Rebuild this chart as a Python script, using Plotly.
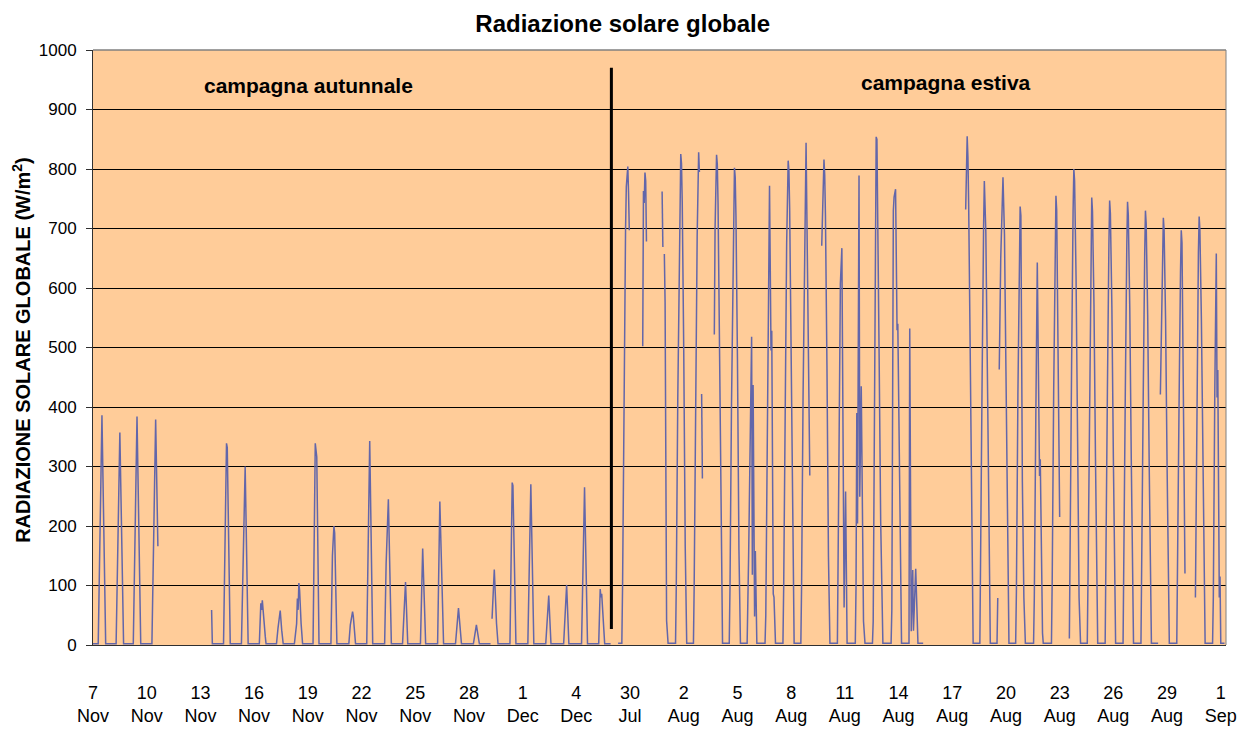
import plotly.graph_objects as go

# ---------------- data (hourly global solar radiation, W/m2) ----------------
# Each day is described by the hours (0-23) at which the line changes course
# and the value read at that hour; None = missing data (line break).

autumn_dates = ["7 Nov", "8 Nov", "9 Nov", "10 Nov", "11 Nov", "12 Nov", "13 Nov",
                "14 Nov", "15 Nov", "16 Nov", "17 Nov", "18 Nov", "19 Nov", "20 Nov",
                "21 Nov", "22 Nov", "23 Nov", "24 Nov", "25 Nov", "26 Nov", "27 Nov",
                "28 Nov", "29 Nov", "30 Nov", "1 Dec", "2 Dec", "3 Dec", "4 Dec", "5 Dec"]

autumn_hours = [
    [0, 7, 12, 17],
    [7, 12, 17],
    [6, 11, 16],
    [7, 12, 15, 16],
    [],
    [],
    [15, 16],
    [7, 11, 12, 16],
    [7, 12, 16],
    [7, 9, 10, 11, 13, 15, 16],
    [6, 8, 10, 11, 13, 15],
    [6, 8, 9, 10, 11, 12, 13, 15, 17],
    [7, 10, 12, 15],
    [7, 9, 11, 12, 15],
    [7, 9, 10, 12, 13, 16],
    [7, 11, 15],
    [7, 9, 10, 12, 16],
    [7, 11, 14],
    [7, 10, 14],
    [6, 9, 14],
    [6, 10, 14],
    [6, 10, 14],
    [5, 6, 7, 10, 13, 15],
    [7, 10, 11, 15],
    [7, 11, 15],
    [7, 11, 14],
    [7, 11, 14],
    [7, 11, 15],
    [6, 8, 9, 10, 14, 22],
]

autumn_values = [
    [2, 2, 386, 2],
    [2, 357, 2],
    [2, 384, 2],
    [2, 379, 166, None],
    [],
    [],
    [59, 2],
    [2, 339, 332, 2],
    [2, 300, 2],
    [2, 70, 59, 75, 36, 14, 2],
    [2, 28, 58, 58, 25, 2],
    [2, 34, 36, 78, 59, 104, 92, 36, 2],
    [2, 339, 316, 2],
    [2, 150, 200, 188, 2],
    [2, 34, 40, 56, 48, 2],
    [2, 343, 2],
    [2, 137, 188, 245, 2],
    [2, 106, 2],
    [2, 162, 2],
    [2, 241, 2],
    [2, 62, 2],
    [2, 34, 2],
    [2, None, 44, 127, 36, 2],
    [2, 273, 268, 2],
    [2, 270, 2],
    [2, 83, 2],
    [2, 101, 2],
    [2, 265, 2],
    [2, 94, 80, 86, 2, 2],
]

summer_dates = ["29 Jul", "30 Jul", "31 Jul"] + ["%d Aug" % d for d in range(1, 32)]

summer_hours = [
    [1, 6, 7, 9, 11, 12, 14, 15, 16, 17],            # 29 Jul
    [10, 11, 12, 13, 14, 15, 16],                    # 30 Jul
    [12, 13, 14, 15, 16, 18, 20],                    # 31 Jul
    [6, 7, 9, 11, 13, 14, 15, 17, 19, 21],           # 1 Aug
    [6, 7, 9, 11, 13, 14, 15, 17, 18, 19],           # 2 Aug
    [10, 11, 13, 14, 15, 17, 19, 21],                # 3 Aug
    [6, 7, 9, 11, 13, 14, 15, 17, 19, 21],           # 4 Aug
    [6, 8, 10, 12, 13, 14, 16, 17, 19],              # 5 Aug
    [6, 7, 9, 11, 12, 14, 15, 17, 18, 20],           # 6 Aug
    [6, 7, 9, 11, 13, 14, 15, 17, 19, 21],           # 7 Aug
    [6, 7, 9, 11, 13, 18, 19],                       # 8 Aug
    [10, 12, 13, 14, 15, 17, 19, 21],                # 9 Aug
    [7, 9, 11, 13, 16, 18, 19, 20],                  # 10 Aug
    [7, 8, 9, 10, 12, 13, 15, 18, 20],               # 11 Aug
    [6, 7, 9, 11, 12, 13, 15, 17, 19, 20],           # 12 Aug
    [7, 8, 10, 11, 13, 15, 16, 20, 21],              # 13 Aug
    [7, 8, 10, 12, 13, 16, 19],                      # 14 Aug
    [2, 3],                                          # 15 Aug
    [],                                              # 16 Aug
    [11, 12, 13, 14, 15, 17, 19, 21],                # 17 Aug
    [6, 7, 9, 11, 12, 13, 14, 16, 18, 20],           # 18 Aug
    [5, 6, 7, 8, 10, 13, 15, 17, 19, 21],            # 19 Aug
    [6, 7, 9, 11, 12, 13, 14, 15, 17, 19],           # 20 Aug
    [6, 7, 9, 11, 14, 15, 18, 19],                   # 21 Aug
    [6, 7, 9, 11, 12, 13, 17, 18],                   # 22 Aug
    [6, 7, 9, 11, 12, 13, 15, 17, 19, 21],           # 23 Aug
    [6, 7, 9, 11, 12, 13, 15, 17, 19, 20],           # 24 Aug
    [6, 7, 9, 11, 12, 13, 15, 17, 19, 20],           # 25 Aug
    [6, 7, 9, 11, 12, 13, 15, 17, 19, 20],           # 26 Aug
    [6, 7, 9, 11, 12, 13, 15, 17, 19, 20],           # 27 Aug
    [5, 6, 8, 9, 11, 12, 13, 15, 17, 19, 20],        # 28 Aug
    [6, 7, 9, 11, 12, 13, 17, 18],                   # 29 Aug
    [7, 9, 11, 12, 13, 15, 17, 19, 20],              # 30 Aug
    [6, 7, 9, 10, 11, 12, 13, 15, 16, 17, 22],       # 31 Aug
]

summer_values = [
    [3, 3, 100, 450, 700, 770, 804, 760, 697, None],
    [502, 763, 743, 794, 780, 678, None],
    [762, 669, None, 657, 576, 41, 3],
    [3, 99, 413, 685, 825, 809, 743, 495, 165, 3],
    [3, 100, 415, 687, 828, 795, None, 422, 280, None],
    [522, 700, 824, 808, 742, 495, 165, 3],
    [3, 96, 401, 666, 802, 786, 722, 481, 160, 3],
    [3, 150, 380, 518, 118, 437, 48, 158, 3],
    [3, 50, 350, 660, 772, 495, 528, 86, 80, 3],
    [3, 98, 407, 676, 814, 798, 733, 488, 163, 3],
    [3, 100, 420, 700, 844, 285, None],
    [671, 790, 816, 790, 720, 470, 150, 3],
    [3, 300, 607, 667, 63, 258, 60, 3],
    [3, 100, 390, 204, 789, 249, 435, 40, 3],
    [3, 40, 450, 854, 850, 750, 480, 210, 25, 3],
    [3, 60, 730, 753, 766, 529, 540, 3, 3],
    [3, 532, 23, 126, 24, 128, 3],
    [3, None],
    [],
    [732, 781, 855, 820, 740, 500, 170, 3],
    [3, 117, 445, 702, 780, 737, 694, 468, 187, 3],
    [3, 79, None, 463, 650, 786, 690, 460, 160, 3],
    [3, 90, 420, 680, 737, 722, 298, 275, 80, 3],
    [3, 80, 380, 643, 284, 312, 20, 3],
    [3, 110, 430, 690, 755, 731, 215, None],
    [11, 130, 470, 730, 800, 780, 615, 350, 80, 3],
    [3, 113, 429, 677, 752, 729, 572, 316, 68, 3],
    [3, 112, 426, 672, 747, 725, 568, 314, 67, 3],
    [3, 112, 425, 671, 745, 723, 566, 313, 67, 3],
    [3, 110, 416, 657, 730, 708, 555, 307, 66, 3],
    [3, None, 421, 520, 680, 718, 698, 547, 302, 65, 3],
    [3, 105, 397, 627, 697, 676, 120, None],
    [80, 420, 660, 720, 698, 547, 302, 65, 3],
    [3, 80, 430, 580, 658, 416, 462, 80, 115, 3, 3],
]

# hourly samples per campaign on the shared category axis
autumn_samples = 703
summer_samples = 24 * len(summer_dates)

# category-axis labels (one every 72 hourly samples)
tick_labels = ["7<br>Nov", "10<br>Nov", "13<br>Nov", "16<br>Nov", "19<br>Nov",
               "22<br>Nov", "25<br>Nov", "28<br>Nov", "1<br>Dec", "4<br>Dec",
               "30<br>Jul", "2<br>Aug", "5<br>Aug", "8<br>Aug", "11<br>Aug",
               "14<br>Aug", "17<br>Aug", "20<br>Aug", "23<br>Aug", "26<br>Aug",
               "29<br>Aug", "1<br>Sep"]
label_every = 72

# ---------------- build series ----------------
xs, ys = [], []
for k, (hrs, vals) in enumerate(zip(autumn_hours, autumn_values)):
    for h, v in zip(hrs, vals):
        xs.append(24 * k + h)
        ys.append(v)
last_autumn_x = xs[-1]
xs.append(autumn_samples - 1)
ys.append(None)
for d, (hrs, vals) in enumerate(zip(summer_hours, summer_values)):
    for h, v in zip(hrs, vals):
        xs.append(autumn_samples + 24 * d + h)
        ys.append(v)

total_samples = autumn_samples + summer_samples

FONT = "Liberation Sans, Arial, Helvetica, sans-serif"

fig = go.Figure()
fig.add_trace(go.Scatter(
    x=xs, y=ys, mode="lines", connectgaps=False,
    line=dict(color="#6266AA", width=1.5),
    hoverinfo="x+y", showlegend=False,
))

fig.update_layout(
    width=1238, height=730, autosize=False,
    margin=dict(l=93, r=12, t=50, b=85),
    paper_bgcolor="white",
    plot_bgcolor="#FFCC99",
    font=dict(family=FONT, color="black", size=18),
    title=dict(text="<b>Radiazione solare globale</b>", x=0.503, xanchor="center",
               y=0.968, yanchor="middle", font=dict(family=FONT, size=24, color="black")),
    showlegend=False,
)

fig.update_xaxes(
    range=[0, total_samples],
    tickmode="array",
    tickvals=[label_every * i for i in range(len(tick_labels))],
    ticktext=tick_labels,
    ticks="", showgrid=False, zeroline=False,
    showline=True, linecolor="#303030", linewidth=1,
    tickfont=dict(family=FONT, size=18, color="black"),
    ticklabelstandoff=31,
    automargin=False,
)
fig.update_yaxes(
    range=[0, 1000], dtick=100, tick0=0,
    showgrid=True, gridcolor="black", gridwidth=1,
    zeroline=False,
    showline=True, linecolor="#303030", linewidth=1,
    ticks="outside", ticklen=6, tickcolor="#303030",
    tickfont=dict(family=FONT, size=17, color="black"),
    ticklabelstandoff=6,
    automargin=False,
)

# plot-area border (top / right, grey)
fig.add_shape(type="line", xref="x domain", yref="y domain", x0=0, x1=1, y0=1, y1=1,
              line=dict(color="#808080", width=1.5), layer="above")
fig.add_shape(type="line", xref="x domain", yref="y domain", x0=1, x1=1, y0=0, y1=1,
              line=dict(color="#808080", width=1), layer="above")

# separator between the two campaigns
sep_x = last_autumn_x + 1
fig.add_shape(type="line", xref="x", yref="y", x0=sep_x, x1=sep_x, y0=27, y1=970,
              line=dict(color="black", width=3), layer="above")

fig.add_annotation(text="<b>campagna autunnale</b>", xref="x domain", yref="y domain",
                   x=0.1906, y=0.94, showarrow=False, xanchor="center", yanchor="middle",
                   font=dict(family=FONT, size=21, color="black"))
fig.add_annotation(text="<b>campagna estiva</b>", xref="x domain", yref="y domain",
                   x=0.7529, y=0.945, showarrow=False, xanchor="center", yanchor="middle",
                   font=dict(family=FONT, size=21, color="black"))
fig.add_annotation(text="<b>RADIAZIONE SOLARE GLOBALE (W/m<sup>2</sup>)</b>",
                   xref="paper", yref="paper", x=-0.0627, y=0.496, textangle=-90,
                   showarrow=False, xanchor="center", yanchor="middle",
                   font=dict(family=FONT, size=20, color="black"))

fig.write_html("out.html",
               config={"responsive": False, "displayModeBar": False},
               post_script="document.body.style.margin='0';")
